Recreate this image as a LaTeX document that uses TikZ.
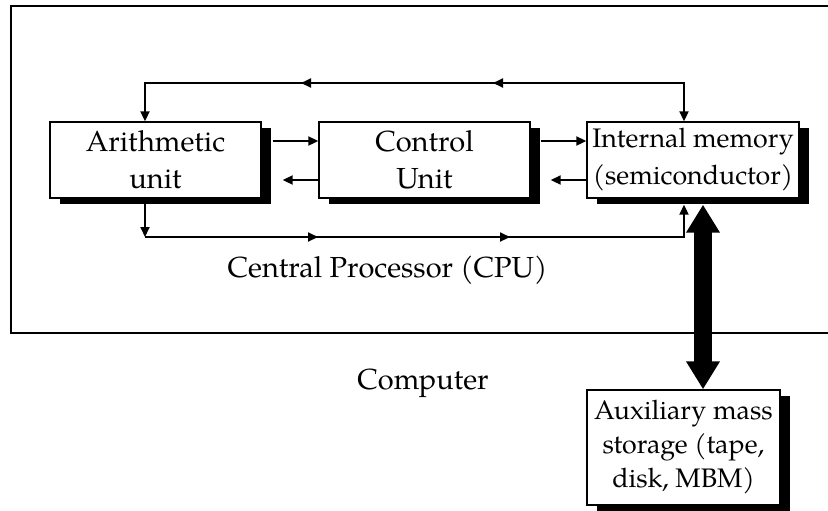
\documentclass[tikz,border=0pt]{standalone}
\usepackage{fontspec}
\setmainfont{TeX Gyre Pagella}
\usetikzlibrary{arrows.meta,shadows}
\begin{document}
\begin{tikzpicture}[x=0.5pt,y=-0.5pt,
  box/.style={draw, line width=0.7pt, fill=white, inner sep=0pt, align=center,
    font=\fontsize{14.5}{18.5}\selectfont,
    drop shadow={shadow xshift=5pt, shadow yshift=-3pt, fill=black, opacity=1}},
  ln/.style={line width=1pt},
  tip/.style={-{Triangle[length=5pt,width=4.5pt]}},
  tips/.style={{Triangle[length=5pt,width=4.5pt]}-{Triangle[length=5pt,width=4.5pt]}},
  lbl/.style={font=\fontsize{14.5}{18}\selectfont, inner sep=0pt}]
\useasboundingbox (0,0) rectangle (828,510);
\draw[line width=0.8pt] (830,6) -- (11,6) -- (11,333) -- (830,333);

\node[box, minimum width=105.5pt, minimum height=38pt] (ar) at (155.5,160) {Arithmetic\\unit};
\node[box, minimum width=105.5pt, minimum height=38pt] (ctrl) at (424.5,160) {Control\\Unit};
\node[box, minimum width=106pt, minimum height=38pt, font=\fontsize{13.4}{18.5}\selectfont] (mem) at (693,160) {Internal memory\\(semiconductor)};
\node[box, minimum width=96.5pt, minimum height=57.5pt, font=\fontsize{13.4}{17}\selectfont] (aux) at (683.5,447.5) {Auxiliary mass\\storage (tape,\\disk, MBM)};

\node[lbl] (cpu) at (387.5,270) {Central Processor (CPU)};
\node[lbl] (comp) at (423,383) {Computer};

% top bus
\coordinate (t1) at (684,83);
\coordinate (t2) at (145,83);
\coordinate (m1) at (493,83);
\coordinate (m2) at (301,83);
\draw[ln, tips] (t2 |- ar.north) -- (t2) -- (t1) -- (t1 |- mem.north);
\draw[ln, tip] (t1) -- (m1);
\draw[ln, tip] (t1) -- (m2);

% bottom bus
\coordinate (b1) at (145,237);
\coordinate (b2) at (684,237);
\coordinate (n1) at (318,237);
\coordinate (n2) at (510,237);
\draw[ln, tip] (b1 |- ar.south) -- (b1);
\draw[ln, tip] (b1) -- (b2) -- ([yshift=-3pt]b2 |- mem.south);
\draw[ln, tip] (b1) -- (n1);
\draw[ln, tip] (b1) -- (n2);

% horizontal links
\draw[ln, tip] ([shift={(5.5pt,9.5pt)}]ar.east) -- ([yshift=9.5pt]ctrl.west);
\draw[ln, tip] ([yshift=-10pt]ctrl.west) -- ([shift={(10.5pt,-10pt)}]ar.east);
\draw[ln, tip] ([shift={(5pt,9.5pt)}]ctrl.east) -- ([yshift=9.5pt]mem.west);
\draw[ln, tip] ([yshift=-10pt]mem.west) -- ([shift={(10pt,-10pt)}]ctrl.east);

% thick bus to auxiliary storage
\coordinate (k1) at ([shift={(5pt,-3pt)}]mem.south);
\draw[line width=9pt, {Triangle[length=14pt,width=16pt]}-{Triangle[length=14pt,width=16pt]}] (k1) -- (k1 |- aux.north);
\end{tikzpicture}
\end{document}
